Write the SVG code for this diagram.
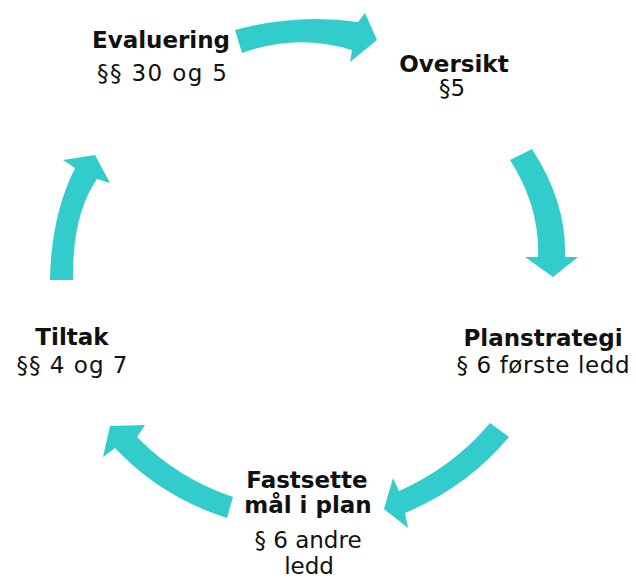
<svg xmlns="http://www.w3.org/2000/svg" width="636" height="579" viewBox="0 0 636 579">
<style>
.arrow{fill:#33CCCC;stroke:none}
text{font-family:"DejaVu Sans",Verdana,sans-serif;font-size:23px;fill:#111;text-anchor:middle}
.t{font-weight:bold}
</style>
<rect width="636" height="579" fill="#fff"/>
<g id="connectors">
<path class="arrow" d="M235,30 Q297,13 358,22 L365,13 L377,40 L350,62 L352,50 Q297,33 242,53 Z"/>
<path class="arrow" d="M510,160 L532,149 Q567,203 565,257 L578,257 L553,277 L525,257 L538,257 Q540,207 510,160 Z"/>
<path class="arrow" d="M490,423 L509,437 Q467,487 405,513 L408,528 L384,509 L393,478 L399,491 Q453,467 490,423 Z"/>
<path class="arrow" d="M227,518 Q161,497 115,448 L103,457 L110,426 L145,425 L137,437 Q177,478 233,497 Z"/>
<path class="arrow" d="M50,280 L73,280 Q72,215 97,179 L110,183 L95,155 L63,160 L75,168 Q51,216 50,280 Z"/>
</g>
<g id="evaluering">
<text class="t" x="161" y="48">Evaluering</text>
<text x="162" y="81" textLength="130" lengthAdjust="spacing">§§ 30 og 5</text>
</g>
<g id="oversikt">
<text class="t" x="454" y="72">Oversikt</text>
<text x="452" y="96">§5</text>
</g>
<g id="planstrategi">
<text class="t" x="543" y="346">Planstrategi</text>
<text x="543" y="373" textLength="173" lengthAdjust="spacing">§ 6 første ledd</text>
</g>
<g id="fastsette">
<text class="t" x="307" y="488">Fastsette</text>
<text class="t" x="308" y="513">mål i plan</text>
<text x="308" y="548">§ 6 andre</text>
<text x="309" y="574">ledd</text>
</g>
<g id="tiltak">
<text class="t" x="72" y="345">Tiltak</text>
<text x="72" y="373" textLength="111" lengthAdjust="spacing">§§ 4 og 7</text>
</g>
</svg>
